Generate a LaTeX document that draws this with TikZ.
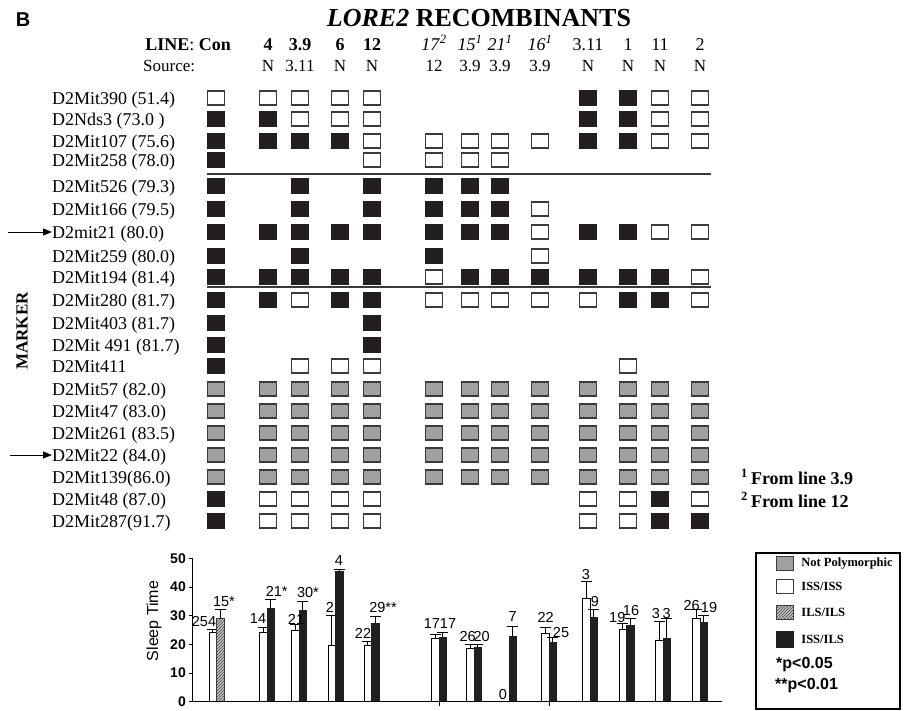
\documentclass[tikz,border=0pt]{standalone}
\usepackage{fontspec}
\setmainfont{Liberation Serif}
\setsansfont{Liberation Sans}
\usepackage{tikz}
\usetikzlibrary{arrows.meta,positioning,calc,patterns}

\definecolor{cellblack}{HTML}{231F20}
\definecolor{cellgray}{HTML}{A0A0A0}
\definecolor{celledge}{HTML}{3A3A3A}

\tikzset{
  cell/.style={draw=celledge, line width=1.4pt, minimum width=17pt, minimum height=14pt, inner sep=0pt},
  cellw/.style={fill=white},
  cellb/.style={fill=cellblack, draw=cellblack},
  cellg/.style={fill=cellgray},
  mlabel/.style={anchor=west, inner sep=0pt, text height=12pt, text depth=0pt, font=\fontsize{18}{18}\selectfont},
  hd/.style={inner sep=0pt, text height=12pt, text depth=0pt, font=\fontsize{18}{18}\selectfont},
  src/.style={inner sep=0pt, text height=11pt, text depth=0pt, font=\fontsize{17}{17}\selectfont},
  sepline/.style={draw=celledge, line width=1.8pt},
  pointer/.style={line width=1pt, -{Triangle[length=9pt, width=7pt]}},
  axisline/.style={line width=1pt, black},
  ticklab/.style={anchor=east, inner sep=0pt, font=\sffamily\bfseries\fontsize{14}{14}\selectfont},
  barlab/.style={inner sep=0pt, font=\sffamily\fontsize{14.5}{14.5}\selectfont},
  whitebar/.style={draw=black, line width=0.8pt, fill=white},
  solidbar/.style={draw=cellblack, line width=0.8pt, fill=cellblack},
  hatchbar/.style={draw=celledge, line width=0.8pt, fill=gray!45, postaction={pattern=north east lines, pattern color=black!75}},
  errbar/.style={line width=1pt, black},
  legtext/.style={inner sep=0pt, font=\bfseries\fontsize{12.5}{12.5}\selectfont},
  pval/.style={anchor=west, inner sep=0pt, font=\sffamily\bfseries\fontsize{16}{16}\selectfont},
  foot/.style={anchor=west, inner sep=0pt, font=\bfseries\fontsize{18}{18}\selectfont}
}

\begin{document}
\begin{tikzpicture}[x=1pt, y=-1pt]
  \useasboundingbox (0,0) rectangle (908,710);
  \def\colx{{216,268,300,340,372,434,470,500,540,588,628,660,700}}

  % heading
  \node[font=\sffamily\bfseries\fontsize{20}{20}\selectfont] (panel) at (23,20) {B};
  \node[font=\bfseries\fontsize{26}{26}\selectfont] (title) at (479,18) {\textit{LORE2} RECOMBINANTS};
  \node[hd, anchor=east] (line) at (231,44) {\textbf{LINE}: \textbf{Con}};
  \node[src, anchor=west] (source) at (143,66) {Source:};
  \foreach \t/\s [count=\k from 2] in {\textbf{4}/N, \textbf{3.9}/3.11, \textbf{6}/N, \textbf{12}/N,
      \textit{17}\textsuperscript{\textit{2}}/12, \textit{15}\textsuperscript{\textit{1}}/3.9,
      \textit{21}\textsuperscript{\textit{1}}/3.9, \textit{16}\textsuperscript{\textit{1}}/3.9,
      3.11/N, 1/N, 11/N, 2/N}{
    \pgfmathsetmacro\cx{\colx[\k-1]}
    \node[hd] (h\k) at (\cx,44) {\t};
    \node[src] (s\k) at (\cx,66) {\s};
  }

  % marker grid
  \node[font=\bfseries\fontsize{17}{17}\selectfont, rotate=90] (marker) at (22,331) {MARKER};
  \foreach \yy/\lab/\cells [count=\r] in {
      98/D2Mit390 (51.4)/{w,w,w,w,w,n,n,n,n,b,b,w,w},
      119/D2Nds3 (73.0 )/{b,b,w,w,w,n,n,n,n,b,b,w,w},
      141/D2Mit107 (75.6)/{b,b,b,b,w,w,w,w,w,b,b,w,w},
      160/D2Mit258 (78.0)/{b,n,n,n,w,w,w,w,n,n,n,n,n},
      186/D2Mit526 (79.3)/{b,n,b,n,b,b,b,b,n,n,n,n,n},
      209/D2Mit166 (79.5)/{b,n,b,n,b,b,b,b,w,n,n,n,n},
      232/D2mit21 (80.0)/{b,b,b,b,b,b,b,b,w,b,b,w,w},
      256/D2Mit259 (80.0)/{b,n,b,n,n,b,n,n,w,n,n,n,n},
      277/D2Mit194 (81.4)/{b,b,b,b,b,w,b,b,b,b,b,b,w},
      300/D2Mit280 (81.7)/{b,b,w,b,b,w,w,w,w,w,b,b,w},
      323/D2Mit403 (81.7)/{b,n,n,n,b,n,n,n,n,n,n,n,n},
      345/D2Mit 491 (81.7)/{b,n,n,n,b,n,n,n,n,n,n,n,n},
      366/D2Mit411/{b,n,w,w,w,n,n,n,n,n,w,n,n},
      389/D2Mit57 (82.0)/{g,g,g,g,g,g,g,g,g,g,g,g,g},
      411/D2Mit47 (83.0)/{g,g,g,g,g,g,g,g,g,g,g,g,g},
      433/D2Mit261 (83.5)/{g,g,g,g,g,g,g,g,g,g,g,g,g},
      455/D2Mit22 (84.0)/{g,g,g,g,g,g,g,g,g,g,g,g,g},
      477/D2Mit139(86.0)/{g,g,g,g,g,g,g,g,g,g,g,g,g},
      499/D2Mit48 (87.0)/{b,w,w,w,w,n,n,n,n,w,w,b,w},
      521/D2Mit287(91.7)/{b,w,w,w,w,n,n,n,n,w,w,b,b}}{
    \node[mlabel] (lab\r) at (52,\yy) {\lab};
    \foreach \c [count=\k] in \cells {
      \if n\c\else
        \pgfmathsetmacro\cx{\colx[\k-1]}
        \node[cell, cell\c] (m\r-\k) at (\cx,\yy) {};
      \fi
    }
  }
  \draw[sepline] (207,174) -- (711,174);
  \draw[sepline] (207,287) -- (711,287);
  \coordinate (a1) at (8,232);
  \coordinate (a2) at (10,455);
  \draw[pointer] (a1) -- (lab7.west);
  \draw[pointer] (a2) -- (lab17.west);

  \node[foot] (f1) at (741,477) {\textsuperscript{1}\,From line 3.9};
  \node[foot] (f2) at (741,500) {\textsuperscript{2}\,From line 12};

  % sleep time bars
  \node[font=\sffamily\fontsize{16}{16}\selectfont, rotate=90] (ylab) at (154,621) {Sleep Time};
  \begin{scope}[shift={(0,701.7)}, y=2.867pt]
    \foreach \cx/\wv/\we/\bv/\be/\bs in {
        216.5/24.3/25.1/29.1/32/hatchbar, 267/24.3/26/32.6/35.7/solidbar,
        299/24.7/26.8/31.7/35/solidbar, 335.5/19.8/30/45.3/46.2/solidbar,
        371.5/19.6/20.9/27.2/29.6/solidbar, 439/22.1/23.6/22.4/24.3/solidbar,
        474/18.6/20.1/18.8/20.1/solidbar, 509/0/0/22.9/26.2/solidbar,
        549/23.8/25.9/20.7/22.4/solidbar, 590/36/41.8/29.5/32/solidbar,
        626.5/25.3/27.3/26.6/29/solidbar, 663/21.5/28.1/22.1/29/solidbar,
        700/29/32/27.8/30.1/solidbar}{
      \ifdim\wv pt>0pt
        \draw[errbar] (\cx-3.75,\wv) -- (\cx-3.75,\we) ++(-5.5,0) -- ++(11,0);
        \draw[whitebar] (\cx-7.5,0) rectangle (\cx,\wv);
      \fi
      \draw[errbar] (\cx+3.75,\bv) -- (\cx+3.75,\be) ++(-5.5,0) -- ++(11,0);
      \draw[\bs] (\cx,0) rectangle (\cx+7.5,\bv);
    }
    \draw[axisline] (192,50) -- (192,0) -- (722,0);
    \foreach \v in {0,10,...,50}{
      \draw[axisline] (189,\v) -- (192,\v);
      \node[ticklab] (t\v) at (186,\v) {\v};
    }
    \draw[axisline] (439,0) -- ++(0,-1.4);
    \draw[axisline] (549,0) -- ++(0,-1.4);
  \end{scope}
  \foreach \lx/\ly/\lt [count=\i] in {204/621.7/254, 224/601.7/15*, 258/619/14, 276.7/591/21*,
      296/619/21, 308/592.7/30*, 330/607.7/2, 339/560.7/4, 363/633/22, 383/607/29**,
      440/623.3/1717, 467.7/636/26, 481.7/636/20, 503/694/0, 512.7/616.7/7,
      545.7/617.7/22, 561/632.3/25, 586/574.3/3, 595/601.7/9, 617.3/617.7/19,
      631/610/16, 656/613.3/3, 666.7/613.3/3, 691.7/605/26, 709/607.3/19}{
    \node[barlab] (n\i) at (\lx,\ly) {\lt};
  }

  % legend
  \node[draw, line width=1.8pt, anchor=north west, minimum width=144pt, minimum height=156pt, inner sep=0pt] (legend) at (755,552) {};
  \node[cell, cellg] (sw1) at (785,563.3) {};
  \node[cell, cellw] (sw2) at (785,586.7) {};
  \node[cell, fill=gray!45, postaction={pattern=north east lines, pattern color=black!75}] (sw3) at (785,612.3) {};
  \node[cell, cellb, minimum height=16pt] (sw4) at (785,639.3) {};
  \node[legtext, right=7pt of sw1] (l1) {Not Polymorphic};
  \node[legtext, right=7pt of sw2] (l2) {ISS/ISS};
  \node[legtext, right=7pt of sw3] (l3) {ILS/ILS};
  \node[legtext, right=7pt of sw4] (l4) {ISS/ILS};
  \node[pval] (p1) at (776,665) {*p<0.05};
  \node[pval] (p2) at (775,686) {**p<0.01};
\end{tikzpicture}
\end{document}
